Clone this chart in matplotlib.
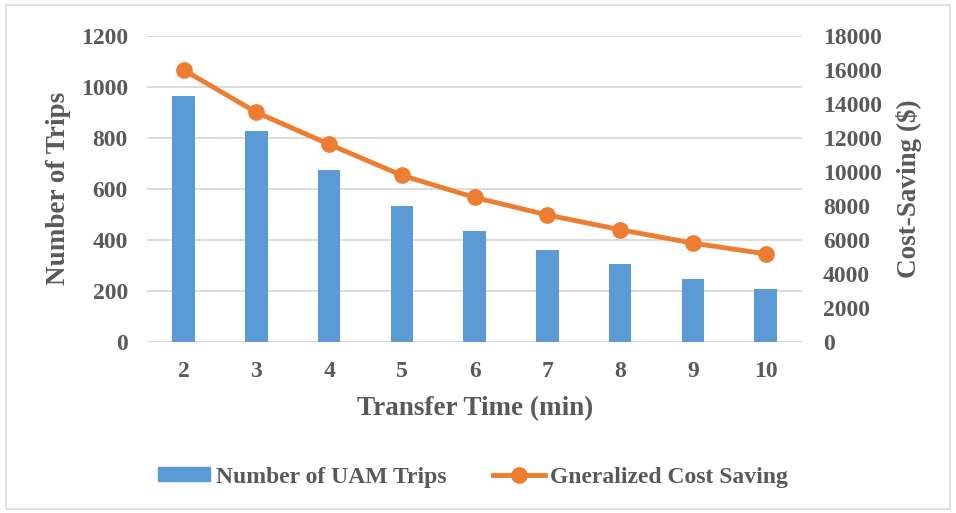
import matplotlib.pyplot as plt
from matplotlib.patches import Rectangle
from matplotlib.lines import Line2D
from matplotlib.patches import Patch

transfer_time = [2, 3, 4, 5, 6, 7, 8, 9, 10]
uam_trips = [965, 826, 674, 531, 433, 359, 305, 245, 206]
cost_saving = [16000, 13500, 11620, 9790, 8490, 7460, 6590, 5800, 5170]

bar_color = '#5B9BD5'
line_color = '#ED7D31'
text_color = '#595959'
grid_color = '#D9D9D9'

plt.rcParams['font.family'] = ['Liberation Serif', 'DejaVu Serif']
plt.rcParams['font.weight'] = 'bold'
plt.rcParams['axes.labelweight'] = 'bold'

fig = plt.figure(figsize=(9.56, 5.13), dpi=100)
ax = fig.add_axes([0.154, 0.334, 0.685, 0.596])

ax.bar(transfer_time, uam_trips, width=0.31, color=bar_color, zorder=2)
ax.set_xlim(1.5, 10.5)
ax.set_ylim(0, 1200)
ax.set_yticks(range(0, 1201, 200))
ax.set_xticks(transfer_time)
ax.grid(axis='y', color=grid_color, lw=1.3, zorder=0)
for s in ax.spines.values():
    s.set_visible(False)
ax.tick_params(axis='both', length=0, labelsize=17, colors=text_color)
ax.tick_params(axis='y', pad=14)
ax.tick_params(axis='x', pad=14)
ax.set_xlabel('Transfer Time (min)', fontsize=19.5, color=text_color, labelpad=10)
ax.set_ylabel('Number of Trips', fontsize=19.5, color=text_color, labelpad=7)

ax2 = ax.twinx()
ax2.plot(transfer_time, cost_saving, color=line_color, lw=3.5, marker='o',
         markersize=11, zorder=3)
ax2.set_ylim(0, 18000)
ax2.set_yticks(range(0, 18001, 2000))
for s in ax2.spines.values():
    s.set_visible(False)
ax2.tick_params(axis='y', length=0, labelsize=17, colors=text_color, pad=15)
ax2.set_ylabel('Cost-Saving ($)', fontsize=19.5, color=text_color, labelpad=10)

handles = [Patch(color=bar_color),
           Line2D([0], [0], color=line_color, lw=3.5, marker='o', markersize=11)]
leg = fig.legend(handles, ['Number of UAM Trips', 'Gneralized Cost Saving'],
                 loc='center', bbox_to_anchor=(0.495, 0.07), ncol=2, frameon=False,
                 fontsize=17, handlelength=2.2, handleheight=0.5,
                 handletextpad=0.25, columnspacing=1.95)
for t in leg.get_texts():
    t.set_fontweight('bold')
    t.set_color(text_color)

fig.patches.append(Rectangle((0.006, 0.008), 0.988, 0.982, transform=fig.transFigure,
                             fill=False, edgecolor=grid_color, lw=1.2))

fig.savefig('out.png', dpi=100)
